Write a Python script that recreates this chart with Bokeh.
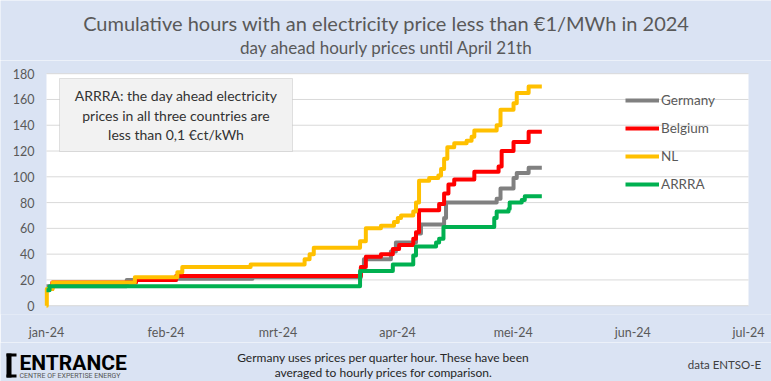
import pandas as pd
from bokeh.plotting import figure
from bokeh.layouts import column
from bokeh.models import (Label, BoxAnnotation, Legend, LegendItem, FixedTicker,
                          CustomJSTickFormatter, Range1d)
from bokeh.core.properties import value
from bokeh.embed import file_html
from bokeh.resources import INLINE

# ---------------- data ----------------
month_names = ["jan", "feb", "mrt", "apr", "mei", "jun", "jul", "aug", "sep", "okt", "nov", "dec"]
month_ticks = ["2024-01-01", "2024-02-01", "2024-03-01", "2024-04-01", "2024-05-01", "2024-06-01", "2024-07-01"]
y_ticks = [0, 20, 40, 60, 80, 100, 120, 140, 160, 180]

germany_dates = ["2024-01-01 00:00", "2024-01-21 19:00", "2024-02-03 14:00", "2024-02-23 10:00",
                 "2024-03-22 12:00", "2024-03-23 07:00", "2024-03-30 07:00", "2024-03-31 14:00",
                 "2024-04-05 19:00", "2024-04-07 02:00", "2024-04-13 02:00", "2024-04-13 14:00",
                 "2024-04-26 17:00", "2024-04-27 17:00", "2024-05-01 02:00", "2024-05-01 22:00",
                 "2024-05-05 00:00", "2024-05-08 10:00"]
germany_hours = [15, 20, 21, 22, 28, 36, 42, 49, 56, 63, 68, 80, 83, 91, 99, 103, 107, 107]

belgium_dates = ["2024-01-01 00:00", "2024-01-02 12:00", "2024-01-24 05:00", "2024-02-03 14:00",
                 "2024-03-22 12:00", "2024-03-23 19:00", "2024-03-27 17:00", "2024-03-30 19:00",
                 "2024-04-01 10:00", "2024-04-05 02:00", "2024-04-05 19:00", "2024-04-06 14:00",
                 "2024-04-11 19:00", "2024-04-13 02:00", "2024-04-14 05:00", "2024-04-15 17:00",
                 "2024-04-20 22:00", "2024-04-27 05:00", "2024-04-28 00:00", "2024-05-01 02:00",
                 "2024-05-05 00:00", "2024-05-08 10:00"]
belgium_hours = [13, 18, 20, 23, 30, 38, 40, 44, 47, 52, 57, 74, 79, 87, 94, 98, 104, 108, 120, 127, 135, 135]

nl_dates = ["2024-01-01 00:00", "2024-01-01 02:00", "2024-01-02 14:00", "2024-01-23 22:00",
            "2024-02-03 22:00", "2024-02-05 05:00", "2024-02-22 22:00", "2024-03-07 22:00",
            "2024-03-09 05:00", "2024-03-10 07:00", "2024-03-22 07:00", "2024-03-23 19:00",
            "2024-03-27 17:00", "2024-03-31 02:00", "2024-04-01 02:00", "2024-04-01 22:00",
            "2024-04-05 02:00", "2024-04-05 19:00", "2024-04-06 14:00", "2024-04-09 05:00",
            "2024-04-11 14:00", "2024-04-12 07:00", "2024-04-13 02:00", "2024-04-13 22:00",
            "2024-04-15 17:00", "2024-04-18 22:00", "2024-04-20 05:00", "2024-04-20 22:00",
            "2024-04-26 17:00", "2024-04-27 17:00", "2024-05-01 02:00", "2024-05-01 22:00",
            "2024-05-05 00:00", "2024-05-08 10:00"]
nl_hours = [0, 13, 18, 22, 26, 30, 32, 36, 40, 45, 50, 60, 62, 65, 68, 70, 73, 80, 97, 99,
            101, 106, 114, 123, 126, 128, 131, 136, 140, 152, 157, 165, 170, 170]

arrra_dates = ["2024-01-01 00:00", "2024-01-01 19:00", "2024-03-22 07:00", "2024-03-30 19:00",
               "2024-04-05 02:00", "2024-04-05 19:00", "2024-04-11 00:00", "2024-04-11 19:00",
               "2024-04-12 22:00", "2024-04-26 02:00", "2024-04-26 17:00", "2024-04-29 19:00",
               "2024-04-30 02:00", "2024-05-03 05:00", "2024-05-04 00:00", "2024-05-08 10:00"]
arrra_hours = [12, 15, 27, 32, 39, 46, 49, 52, 61, 68, 73, 75, 80, 82, 85, 85]

series = [
    ("Germany", germany_dates, germany_hours, "#808080"),
    ("Belgium", belgium_dates, belgium_hours, "#FF0000"),
    ("NL", nl_dates, nl_hours, "#FFC000"),
    ("ARRRA", arrra_dates, arrra_hours, "#00B050"),
]

FONT = "Lato"
BG = "#DAE3F3"
TXT = "#595959"
GRID = "#D9D9D9"
W = 771
HEAD_H, MAIN_H, FOOT_H = 60, 282, 39
PLOT_L, PLOT_R = 46, 748          # page x extent of the white plot area
PLOT_T, PLOT_B = 73.5, 311        # page y extent of the white plot area
FRAME_B = 320                     # page y of the main frame bottom

x0 = pd.Timestamp(month_ticks[0])
x1 = pd.Timestamp(month_ticks[-1])
px_per_day = (PLOT_R - PLOT_L) / ((x1 - x0).days)
x_start = x0 - pd.Timedelta(days=PLOT_L / px_per_day)
x_end = x1 + pd.Timedelta(days=(W - PLOT_R) / px_per_day)
px_per_unit = (PLOT_B - PLOT_T) / (y_ticks[-1] - y_ticks[0])
y_start = y_ticks[0] - (FRAME_B - PLOT_B) / px_per_unit
y_end = y_ticks[-1] + (PLOT_T - HEAD_H) / px_per_unit


def blank(h):
    f = figure(width=W, height=h, output_backend="svg", toolbar_location=None,
               x_range=Range1d(0, W), y_range=Range1d(h, 0),
               x_axis_location=None, y_axis_location=None, min_border=0)
    f.background_fill_color = BG
    f.border_fill_color = BG
    f.outline_line_color = None
    f.grid.grid_line_color = None
    return f


# ---------------- header ----------------
head = blank(HEAD_H)
head.add_layout(Label(x=386, y=22, text="Cumulative hours with an electricity price less than \u20ac1/MWh in 2024",
                      text_align="center", text_baseline="middle",
                      text_font=FONT, text_font_size="20px", text_color=TXT))
head.add_layout(Label(x=386, y=47, text="day ahead hourly prices until April 21th",
                      text_align="center", text_baseline="middle",
                      text_font=FONT, text_font_size="17px", text_color=TXT))

# ---------------- main chart ----------------
p = figure(width=W, height=MAIN_H, x_axis_type="datetime", output_backend="svg",
           toolbar_location=None, y_axis_location=None,
           x_range=Range1d(x_start, x_end), y_range=Range1d(y_start, y_end),
           min_border_left=0, min_border_right=0, min_border_top=0,
           min_border_bottom=HEAD_H + MAIN_H - FRAME_B)
p.background_fill_color = BG
p.border_fill_color = BG
p.outline_line_color = None
p.grid.grid_line_color = None

# white plot area
p.add_layout(BoxAnnotation(left=x0, right=x1, bottom=y_ticks[0], top=y_ticks[-1],
                           fill_color="white", fill_alpha=1, line_color=None, level="underlay"))
# horizontal gridlines (incl. the base line at 0)
p.segment(x0=[x0] * len(y_ticks), x1=[x1] * len(y_ticks),
          y0=y_ticks, y1=y_ticks, line_color=GRID, line_width=1)
# y tick labels
p.text(x=[x0 - pd.Timedelta(days=12 / px_per_day)] * len(y_ticks), y=y_ticks,
       text=[str(t) for t in y_ticks], text_align="right", text_baseline="middle",
       text_font=value(FONT), text_font_size="12.5px", text_color=TXT)

items = []
for name, d, h, c in series:
    r = p.step(pd.to_datetime(d), h, mode="after", line_width=4, line_color=c, line_join="round")
    items.append(LegendItem(label=name, renderers=[r]))

# x axis
xa = p.xaxis[0]
xa.ticker = FixedTicker(ticks=[int(pd.Timestamp(t).value // 10**6) for t in month_ticks])
xa.formatter = CustomJSTickFormatter(args=dict(names=month_names), code="""
const d = new Date(tick);
return names[d.getUTCMonth()] + '-' + String(d.getUTCFullYear()).slice(2);
""")
xa.major_tick_line_color = None
xa.minor_tick_line_color = None
xa.axis_line_color = None
xa.major_label_text_font = FONT
xa.major_label_text_font_size = "12.5px"
xa.major_label_text_color = TXT
xa.major_label_standoff = 4

legend = Legend(items=items, location=(625, 111 + (FRAME_B - PLOT_B)), orientation="vertical",
                glyph_width=34, glyph_height=20, label_height=20, spacing=8,
                label_standoff=2, padding=0, margin=0,
                background_fill_alpha=0, border_line_alpha=0,
                label_text_font=FONT, label_text_font_size="13.5px", label_text_color=TXT)
p.add_layout(legend)

# note box (screen units from the frame's bottom-left)
dy = FRAME_B - PLOT_B
p.add_layout(BoxAnnotation(left=59, right=292, top=227 + dy, bottom=154 + dy,
                           left_units="screen", right_units="screen",
                           top_units="screen", bottom_units="screen",
                           fill_color="#F2F2F2", fill_alpha=1,
                           line_color="#A6A6A6", line_width=1))
for txt, sy in [("ARRRA: the day ahead electricity", 210),
                ("prices in all three countries are", 190.5),
                ("less than 0,1 \u20acct/kWh", 171)]:
    p.add_layout(Label(x=175.5, y=sy + dy, x_units="screen", y_units="screen", text=txt,
                       text_align="center", text_baseline="middle",
                       text_font=FONT, text_font_size="14px", text_color="#333333"))

# ---------------- footer ----------------
foot = blank(FOOT_H)
Y0 = HEAD_H + MAIN_H  # page y of footer top
foot.add_layout(Label(x=383, y=357 - Y0, text="Germany uses prices per quarter hour. These have been",
                      text_align="center", text_baseline="middle",
                      text_font=FONT, text_font_size="12px", text_color="#262626"))
foot.add_layout(Label(x=383, y=372 - Y0, text="averaged to hourly prices for comparison.",
                      text_align="center", text_baseline="middle",
                      text_font=FONT, text_font_size="12px", text_color="#262626"))
foot.add_layout(Label(x=724, y=364 - Y0, text="data ENTSO-E",
                      text_align="center", text_baseline="middle",
                      text_font=FONT, text_font_size="11.5px", text_color="#404040"))
for l, r, t, b in [(6, 11, 353, 377), (6, 16, 353, 356), (6, 16, 374, 377)]:
    foot.add_layout(BoxAnnotation(left=l, right=r, top=t - Y0, bottom=b - Y0,
                                  fill_color="black", fill_alpha=1, line_color=None))
foot.add_layout(Label(x=19, y=362 - Y0, text="ENTRANCE",
                      text_align="left", text_baseline="middle",
                      text_font="Roboto", text_font_style="bold", text_font_size="21px",
                      text_color="black"))
foot.add_layout(Label(x=19, y=375 - Y0, text="CENTRE OF EXPERTISE ENERGY",
                      text_align="left", text_baseline="middle",
                      text_font="Roboto", text_font_size="7px", text_color="#555555"))

layout = column(head, p, foot, spacing=0)
open("out.html", "w").write(file_html(layout, INLINE))
